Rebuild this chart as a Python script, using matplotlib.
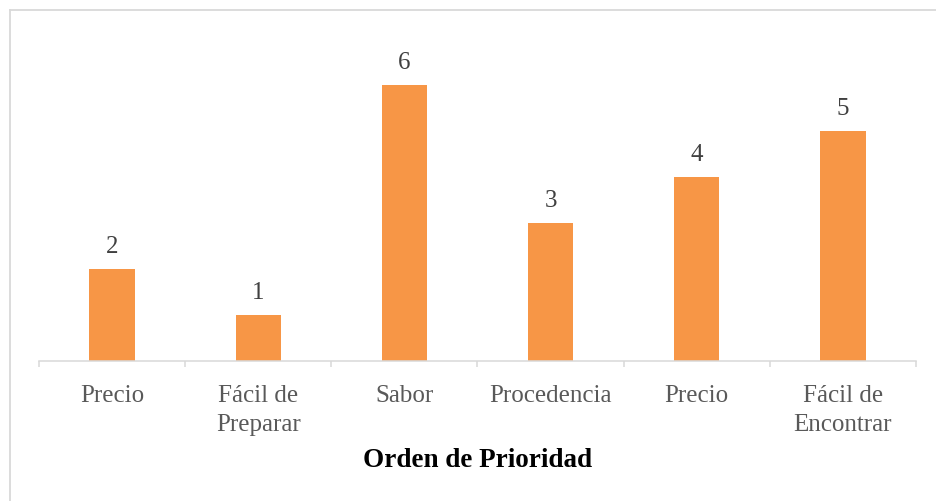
import numpy as np
import matplotlib.pyplot as plt
from matplotlib.lines import Line2D

# Data
categorias = ['Precio', 'Fácil de\nPreparar', 'Sabor', 'Procedencia', 'Precio', 'Fácil de\nEncontrar']
valores = [2, 1, 6, 3, 4, 5]
titulo_x = 'Orden de Prioridad'

plt.rcParams['font.family'] = ['Liberation Serif', 'DejaVu Serif']

fig = plt.figure(figsize=(9.36, 5.02), dpi=100)
W, H = 936, 502
ax = fig.add_axes([39 / W, (H - 362) / H, (916 - 39) / W, (362 - 40) / H])

pos = np.arange(len(valores))
bars = ax.bar(pos, valores, width=0.31, color='#F79646', zorder=2)

# value labels above each bar
for b, v in zip(bars, valores):
    ax.annotate(str(v), (b.get_x() + b.get_width() / 2, b.get_height()),
                xytext=(0, 12), textcoords='offset points',
                ha='center', va='baseline', fontsize=18, color='#404040')

ax.set_xlim(-0.5, len(valores) - 0.5)
ax.set_ylim(0, 7)
ax.set_yticks([])

# labels at centers, tick marks at category boundaries
ax.set_xticks(pos)
ax.set_xticklabels(categorias, fontsize=18, color='#595959', linespacing=1.4)
ax.tick_params(axis='x', which='major', length=0, pad=16.5)
ax.set_xticks(np.arange(-0.5, len(valores)), minor=True)
ax.tick_params(axis='x', which='minor', length=4.5, width=1.1, color='#D9D9D9')

for s in ['top', 'right', 'left']:
    ax.spines[s].set_visible(False)
ax.spines['bottom'].set_color('#D9D9D9')
ax.spines['bottom'].set_linewidth(1.1)

fig.text(477.5 / W, (H - 467) / H, titulo_x, ha='center', va='baseline',
         fontsize=19.5, fontweight='bold', color='black')

# chart area border (top and left only visible in the crop)
fig.add_artist(Line2D([9.5 / W, 1.0], [(H - 10.5) / H, (H - 10.5) / H],
                      color='#D9D9D9', lw=1.3, transform=fig.transFigure))
fig.add_artist(Line2D([9.5 / W, 9.5 / W], [0.0, (H - 10.5) / H],
                      color='#D9D9D9', lw=1.3, transform=fig.transFigure))

fig.savefig('out.png', dpi=100)
